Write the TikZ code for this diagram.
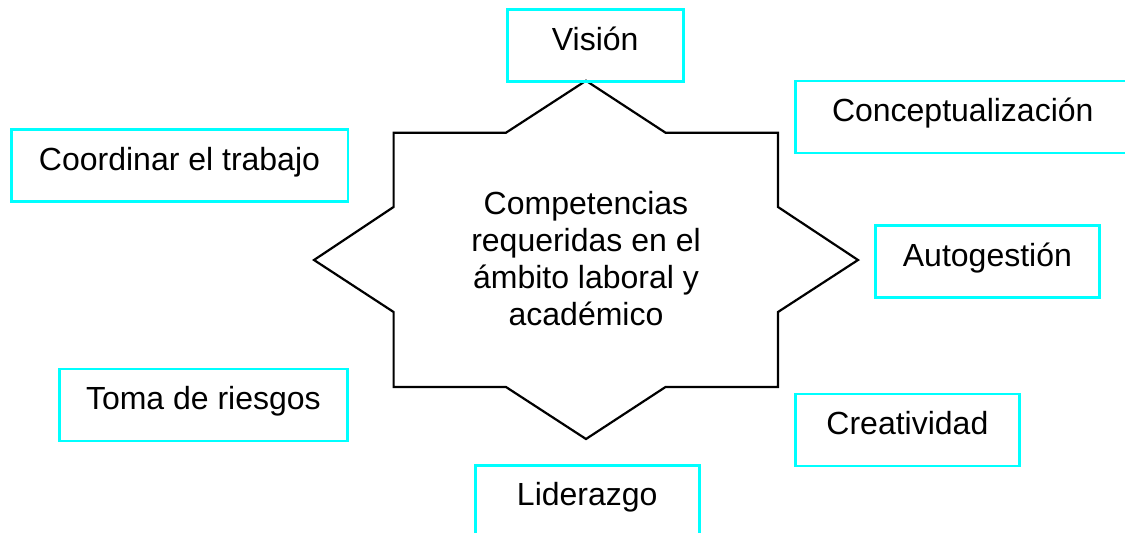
\documentclass[tikz,border=0pt]{standalone}
\usepackage{fontspec}
\setmainfont{Liberation Sans}
\begin{document}
\begin{tikzpicture}[x=1pt,y=-1pt,
  every node/.style={font=\fontsize{32}{36.7}\selectfont},
  cbox/.style={draw=cyan!100, line width=2.5pt, inner xsep=0pt, inner ysep=0pt,
    text height=40.5pt, text depth=31.5pt, anchor=north west, align=center},
  starline/.style={draw=black, line width=2.2pt, line join=miter}]
\definecolor{cyan}{RGB}{0,255,255}
\useasboundingbox (0,0) rectangle (1125,533);
\clip (0,0) rectangle (1125,533);
\fill[white] (0,0) rectangle (1125,533);
% star
\draw[starline] (586,80.7) -- (665.5,132.7) -- (778,132.7) -- (778,207) -- (858,260)
  -- (778,312) -- (778,387) -- (665.5,387) -- (586,439) -- (506,387) -- (393.6,387)
  -- (393.6,312) -- (314,260) -- (393.6,207) -- (393.6,132.7) -- (506,132.7) -- cycle;
\node[align=center, anchor=base] (center) at (586,325)
  {Competencias\\requeridas en el\\ámbito laboral y\\académico};
% boxes
\node[cbox, minimum width=176pt] (vision) at (506,8.3) {Visión};
\node[cbox, minimum width=335pt] (concep) at (794,79.5) {Conceptualización};
\node[cbox, minimum width=336.5pt] (coord) at (10,128.3) {Coordinar el trabajo};
\node[cbox, minimum width=224.3pt] (autog) at (874,224.3) {Autogestión};
\node[cbox, minimum width=287.7pt] (toma) at (58.3,367.8) {Toma de riesgos};
\node[cbox, minimum width=224.3pt] (creat) at (794,392.5) {Creatividad};
\node[cbox, minimum width=224pt] (lider) at (474,464) {Liderazgo};
\end{tikzpicture}
\end{document}
